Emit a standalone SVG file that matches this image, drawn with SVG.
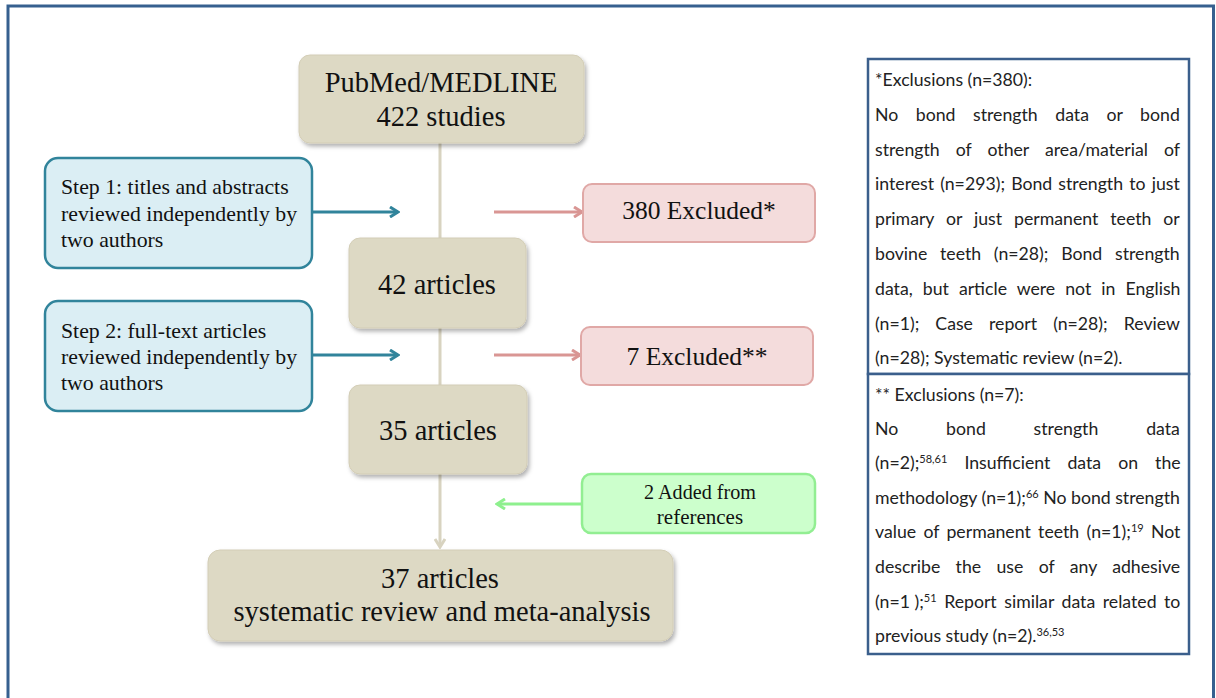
<svg xmlns="http://www.w3.org/2000/svg" width="1216" height="698" viewBox="0 0 1216 698">
<defs>
<filter id="sh" x="-10%" y="-10%" width="125%" height="130%">
<feDropShadow dx="2" dy="3" stdDeviation="2" flood-color="#000" flood-opacity="0.3"/>
</filter>
<marker id="mBlue" viewBox="0 0 12 12" refX="10" refY="6" markerWidth="12" markerHeight="12" markerUnits="userSpaceOnUse" orient="auto">
<path d="M2,1 L10,6 L2,11" fill="none" stroke="#31849b" stroke-width="3"/>
</marker>
<marker id="mPink" viewBox="0 0 12 12" refX="10" refY="6" markerWidth="12" markerHeight="12" markerUnits="userSpaceOnUse" orient="auto">
<path d="M2,1 L10,6 L2,11" fill="none" stroke="#d99694" stroke-width="3"/>
</marker>
<marker id="mGreen" viewBox="0 0 12 12" refX="10" refY="6" markerWidth="12" markerHeight="12" markerUnits="userSpaceOnUse" orient="auto">
<path d="M2,1 L10,6 L2,11" fill="none" stroke="#8ef08e" stroke-width="3"/>
</marker>
<marker id="mTan" viewBox="0 0 12 12" refX="10" refY="6" markerWidth="12" markerHeight="12" markerUnits="userSpaceOnUse" orient="auto">
<path d="M2,1 L10,6 L2,11" fill="none" stroke="#d8d3c0" stroke-width="3"/>
</marker>
</defs>
<style>
.tan{fill:#ddd9c4;stroke:#d3cdb6;stroke-width:1;filter:url(#sh)}
.blue{fill:#dbeef4;stroke:#31849b;stroke-width:2.5}
.pink{fill:#f4dcdc;stroke:#e0a8a6;stroke-width:2}
.green{fill:#ccffcc;stroke:#92ee92;stroke-width:2.5}
.serif{font-family:"Liberation Serif","Times New Roman",serif;fill:#111}
.big{font-size:28.5px}
.mid{font-size:25.5px}
.sm{font-size:21.8px}
.note{font-family:Lato,"Noto Sans",sans-serif;font-size:17.7px;fill:#222}
.sup{font-size:11px}
.conn{fill:none;stroke-width:3}
</style>
<rect x="0" y="0" width="1216" height="698" fill="#fff"/>
<rect x="8" y="6" width="1205.5" height="710" fill="none" stroke="#36608f" stroke-width="3"/>

<g id="connectors">
<line class="conn" x1="440" y1="143" x2="440" y2="547" stroke="#d8d3c0" marker-end="url(#mTan)"/>
<line class="conn" x1="312" y1="212" x2="398" y2="212" stroke="#31849b" marker-end="url(#mBlue)"/>
<line class="conn" x1="312" y1="355" x2="398" y2="355" stroke="#31849b" marker-end="url(#mBlue)"/>
<line class="conn" x1="494" y1="212" x2="582" y2="212" stroke="#d99694" marker-end="url(#mPink)"/>
<line class="conn" x1="494" y1="355" x2="580" y2="355" stroke="#d99694" marker-end="url(#mPink)"/>
<line class="conn" x1="582" y1="504" x2="497" y2="504" stroke="#8ef08e" marker-end="url(#mGreen)"/>
</g>

<g id="pubmed">
<rect class="tan" x="299" y="55" width="285" height="88" rx="11"/>
<text class="serif big" x="441" y="92" text-anchor="middle">PubMed/MEDLINE</text>
<text class="serif big" x="441" y="126" text-anchor="middle">422 studies</text>
</g>

<g id="step1">
<rect class="blue" x="45" y="158" width="267" height="110" rx="13"/>
<text class="serif sm" x="61" y="194">Step 1: titles and abstracts</text>
<text class="serif sm" x="61" y="221">reviewed independently by</text>
<text class="serif sm" x="61" y="247">two authors</text>
</g>

<g id="a42">
<rect class="tan" x="349" y="238" width="177" height="90" rx="11"/>
<text class="serif big" x="437" y="294" text-anchor="middle">42 articles</text>
</g>

<g id="step2">
<rect class="blue" x="45" y="301" width="267" height="110" rx="13"/>
<text class="serif sm" x="61" y="338">Step 2: full-text articles</text>
<text class="serif sm" x="61" y="364">reviewed independently by</text>
<text class="serif sm" x="61" y="390">two authors</text>
</g>

<g id="a35">
<rect class="tan" x="349" y="385" width="178" height="89" rx="11"/>
<text class="serif big" x="438" y="440" text-anchor="middle">35 articles</text>
</g>

<g id="ex380">
<rect class="pink" x="583" y="184" width="232" height="58" rx="9"/>
<text class="serif mid" x="699" y="219" text-anchor="middle">380 Excluded*</text>
</g>

<g id="ex7">
<rect class="pink" x="581" y="327" width="232" height="58" rx="9"/>
<text class="serif mid" x="697" y="365" text-anchor="middle">7 Excluded**</text>
</g>

<g id="added">
<rect class="green" x="582" y="474" width="233" height="59" rx="9"/>
<text class="serif" font-size="21" x="700" y="499" text-anchor="middle" textLength="112" lengthAdjust="spacingAndGlyphs">2 Added from</text>
<text class="serif" font-size="21" x="700" y="524" text-anchor="middle">references</text>
</g>

<g id="a37">
<rect class="tan" x="208" y="550" width="465" height="91" rx="12"/>
<text class="serif big" x="440" y="588" text-anchor="middle">37 articles</text>
<text class="serif big" x="442" y="621" text-anchor="middle">systematic review and meta-analysis</text>
</g>

<g id="notes">
<rect x="868" y="59" width="321" height="315" fill="#fff" stroke="#3b5f8c" stroke-width="2.5"/>
<rect x="868" y="374" width="321" height="280" fill="#fff" stroke="#3b5f8c" stroke-width="2.5"/>
<text class="note" x="875" y="86">*Exclusions (n=380):</text>
<text class="note" x="875" y="121" word-spacing="13">No bond strength data or bond</text>
<text class="note" x="875" y="156" word-spacing="11.5">strength of other area/material of</text>
<text class="note" x="875" y="190" word-spacing="1.6">interest (n=293); Bond strength to just</text>
<text class="note" x="875" y="225" word-spacing="7.4">primary or just permanent teeth or</text>
<text class="note" x="875" y="260" word-spacing="8.2">bovine teeth (n=28); Bond strength</text>
<text class="note" x="875" y="295" word-spacing="5.5">data, but article were not in English</text>
<text class="note" x="875" y="330" word-spacing="11.5">(n=1); Case report (n=28); Review</text>
<text class="note" x="875" y="364">(n=28); Systematic review (n=2).</text>
<text class="note" x="875" y="401">** Exclusions (n=7):</text>
<text class="note" x="875" y="435" word-spacing="43.3">No bond strength data</text>
<text class="note" y="469" word-spacing="12.5"><tspan x="875">(n=2);</tspan><tspan class="sup" dy="-6">58,61</tspan><tspan dy="6"> Insufficient data on the</tspan></text>
<text class="note" y="504"><tspan x="875">methodology (n=1);</tspan><tspan class="sup" dy="-6">66</tspan><tspan dy="6"> No bond strength</tspan></text>
<text class="note" y="538" word-spacing="2.8"><tspan x="875">value of permanent teeth (n=1);</tspan><tspan class="sup" dy="-6">19</tspan><tspan dy="6"> Not</tspan></text>
<text class="note" x="875" y="573" word-spacing="10.8">describe the use of any adhesive</text>
<text class="note" y="608"><tspan x="875">(n=1 );</tspan><tspan class="sup" dy="-6">51</tspan><tspan dy="6" word-spacing="3"> Report similar data related to</tspan></text>
<text class="note" y="642"><tspan x="875">previous study (n=2).</tspan><tspan class="sup" dy="-6">36,53</tspan></text>
</g>
</svg>
